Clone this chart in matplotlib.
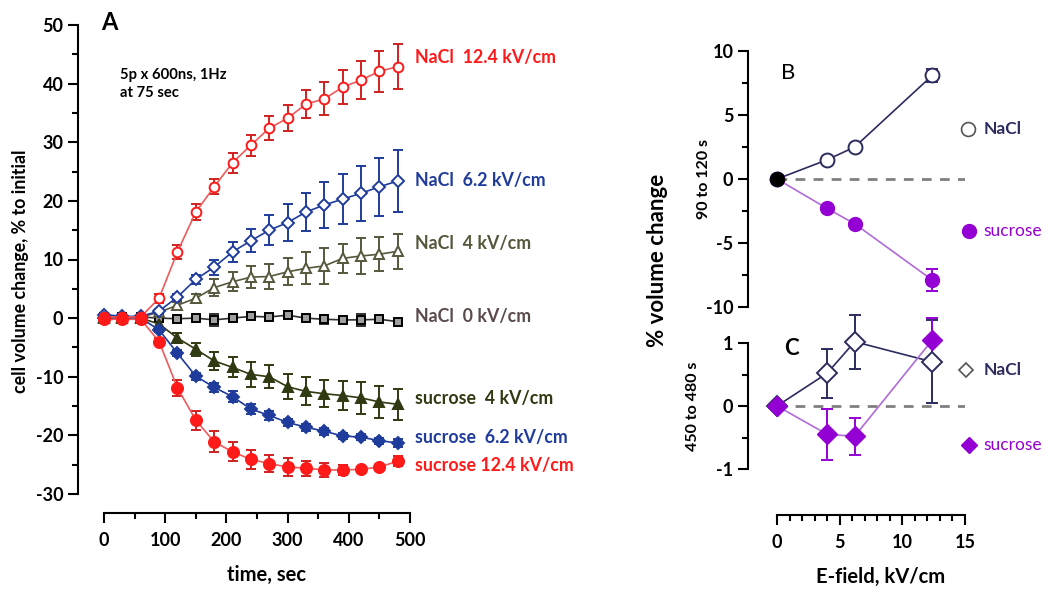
import matplotlib.pyplot as plt
import numpy as np
from matplotlib.ticker import MultipleLocator

plt.rcParams["font.family"] = ["Lato", "DejaVu Sans"]
plt.rcParams["font.weight"] = "bold"
plt.rcParams["axes.unicode_minus"] = False

# Panel A: time course, % volume change
time_s = [0, 30, 60, 90, 120, 150, 180, 210, 240, 270, 300, 330, 360, 390, 420, 450, 480]

nacl_12 = [0.2, 0.2, 0.2, 3.4, 11.3, 18.1, 22.4, 26.5, 29.5, 32.4, 34.1, 36.5, 37.4, 39.4, 40.6, 42.1, 42.9]
nacl_12_err = [0.2, 0.2, 0.2, 0.8, 1.2, 1.3, 1.3, 1.7, 1.8, 2.0, 2.2, 2.4, 2.8, 2.9, 3.2, 3.5, 3.8]
nacl_6 = [0.6, 0.3, 0.3, 1.2, 3.6, 6.6, 8.7, 11.3, 13.2, 15.0, 16.3, 18.1, 19.3, 20.3, 21.3, 22.4, 23.4]
nacl_6_err = [0.2, 0.2, 0.2, 0.4, 0.5, 0.7, 1.3, 1.7, 2.0, 2.6, 3.1, 3.3, 4.0, 4.3, 4.7, 4.9, 5.3]
nacl_4 = [0.2, 0.2, 0.2, 1.0, 2.2, 3.4, 5.2, 6.2, 7.0, 7.1, 7.9, 8.5, 8.9, 10.2, 10.6, 10.9, 11.4]
nacl_4_err = [0.2, 0.2, 0.2, 0.4, 0.5, 0.8, 1.4, 1.6, 1.9, 2.1, 2.3, 2.7, 3.0, 2.5, 3.0, 2.9, 3.0]
nacl_0 = [0.2, 0.2, 0.2, 0.0, -0.1, 0.0, -0.3, 0.0, 0.3, 0.2, 0.5, 0.0, -0.2, -0.3, -0.3, -0.2, -0.6]
nacl_0_err = [0.2, 0.2, 0.2, 0.3, 0.3, 0.3, 1.0, 0.6, 0.4, 0.4, 0.4, 0.3, 0.8, 0.5, 1.0, 0.4, 0.5]
suc_4 = [0.0, 0.0, 0.0, -1.0, -3.4, -5.3, -7.3, -8.4, -9.6, -10.0, -11.7, -12.5, -12.9, -13.2, -13.6, -14.3, -14.7]
suc_4_err = [0.2, 0.2, 0.2, 0.5, 0.9, 1.1, 1.5, 1.7, 2.1, 2.0, 2.1, 2.4, 2.3, 2.4, 2.7, 2.8, 2.6]
suc_6 = [0.0, 0.0, 0.0, -2.0, -6.0, -9.9, -11.8, -13.4, -15.5, -16.6, -17.8, -18.6, -19.3, -20.1, -20.3, -20.9, -21.3]
suc_6_err = [0.2, 0.2, 0.2, 0.4, 0.5, 0.6, 0.8, 0.9, 0.9, 0.7, 0.6, 0.6, 0.6, 0.5, 0.5, 0.5, 0.6]
suc_12 = [-0.2, -0.2, -0.2, -4.0, -11.9, -17.4, -21.1, -22.8, -24.1, -24.8, -25.4, -25.6, -25.9, -25.9, -25.8, -25.4, -24.4]
suc_12_err = [0.2, 0.2, 0.2, 0.6, 1.4, 1.6, 1.8, 1.6, 1.6, 1.4, 1.5, 1.3, 1.2, 0.8, 0.4, 0.3, 0.9]

labels_a = ["NaCl  12.4 kV/cm", "NaCl  6.2 kV/cm", "NaCl  4 kV/cm", "NaCl  0 kV/cm",
            "sucrose  4 kV/cm", "sucrose  6.2 kV/cm", "sucrose 12.4 kV/cm"]
label_y_a = [44.5, 23.5, 12.8, 0.3, -13.7, -20.3, -25.1]

# Panels B and C: E-field dependence
efield = [0, 4, 6.2, 12.4]
b_nacl = [0, 1.5, 2.5, 8.1]
b_nacl_err = [0, 0.2, 0.2, 0.5]
b_suc = [0, -2.3, -3.5, -7.9]
b_suc_err = [0, 0.2, 0.2, 0.85]
c_nacl = [0, 0.52, 1.02, 0.7]
c_nacl_err = [0, 0.39, 0.43, 0.66]
c_suc = [0, -0.45, -0.48, 1.05]
c_suc_err = [0, 0.4, 0.29, 0.35]

RED = "#ff1a1a"
RED_LINE = "#f05a5a"
BLUE = "#1f3c9c"
OLIVE = "#56573c"
DARKOLIVE = "#2f3a12"
GRAY_TXT = "#5a4a4a"
NAVY = "#2b2b5e"
PURPLE = "#9400d3"
PURPLE_LINE = "#b06cd6"


def pt(px):
    return px * 72 / 100


fig = plt.figure(figsize=(10.5, 5.93), dpi=100)

# ---------- panel A ----------
ax = fig.add_axes([104 / 1050, 1 - 494 / 593, 306 / 1050, 469 / 593])
ax.set_xlim(0, 500)
ax.set_ylim(-30, 50)

series = [
    (nacl_0, nacl_0_err, "s", "#a0a0a0", "black", "#303030", "#303030", 6),
    (nacl_4, nacl_4_err, "^", "white", OLIVE, OLIVE, OLIVE, 6.5),
    (suc_4, suc_4_err, "^", DARKOLIVE, DARKOLIVE, DARKOLIVE, DARKOLIVE, 7),
    (nacl_6, nacl_6_err, "D", "white", BLUE, BLUE, BLUE, 6),
    (suc_6, suc_6_err, "D", BLUE, BLUE, BLUE, BLUE, 6.5),
    (nacl_12, nacl_12_err, "o", "white", RED, RED_LINE, "#d02020", 7),
    (suc_12, suc_12_err, "o", RED, RED, RED_LINE, "#d02020", 8),
]
for y, e, m, fc, ec, lc, errc, ms in series:
    ax.errorbar(time_s, y, yerr=e, fmt="none", ecolor=errc, elinewidth=1.4,
                capsize=3.5, capthick=1.4, clip_on=False, zorder=2)
    ax.plot(time_s, y, color=lc, lw=1.2, marker=m, ms=ms, mfc=fc, mec=ec,
            mew=1.4, clip_on=False, zorder=3)

label_colors = [RED, BLUE, OLIVE, GRAY_TXT, DARKOLIVE, BLUE, RED]
for txt, yy, c in zip(labels_a, label_y_a, label_colors):
    ax.text(508, yy, txt, color=c, fontsize=12.8, va="center", ha="left",
            fontweight="bold")

ax.text(26, 42.6, "5p x 600ns, 1Hz\nat 75 sec", fontsize=10.6, va="top",
        ha="left", fontweight="bold", linespacing=1.3)
ax.text(-4, 50.5, "A", fontsize=17, fontweight="bold", va="center", ha="left")

for s in ["top", "right"]:
    ax.spines[s].set_visible(False)
ax.spines["left"].set_position(("outward", pt(26)))
ax.spines["bottom"].set_position(("outward", pt(19)))
for s in ["left", "bottom"]:
    ax.spines[s].set_linewidth(1.5)
ax.xaxis.set_major_locator(MultipleLocator(100))
ax.xaxis.set_minor_locator(MultipleLocator(50))
ax.yaxis.set_major_locator(MultipleLocator(10))
ax.yaxis.set_minor_locator(MultipleLocator(5))
ax.tick_params(which="major", length=7, width=1.5, labelsize=13, direction="out")
ax.tick_params(which="minor", length=4.5, width=1.5, direction="out")
ax.tick_params(axis="x", which="major", pad=7)
ax.set_xlabel("time, sec", fontsize=14.5, fontweight="bold")
ax.set_ylabel("cell volume change, % to initial", fontsize=12.8, fontweight="bold")
ax.xaxis.set_label_coords(0.53, -0.152)
ax.yaxis.set_label_coords(-0.245, 0.475)

# ---------- panel B ----------
axb = fig.add_axes([777 / 1050, 1 - 307 / 593, 188 / 1050, 256 / 593])
axb.set_xlim(0, 15)
axb.set_ylim(-10, 10)
axb.plot([0, 15], [0, 0], color="#808080", lw=2, ls=(0, (3.5, 3)), zorder=1)
axb.errorbar(efield, b_nacl, yerr=b_nacl_err, fmt="none", ecolor=NAVY,
             elinewidth=1.4, capsize=4, capthick=1.4, zorder=2)
axb.errorbar(efield, b_suc, yerr=b_suc_err, fmt="none", ecolor=PURPLE,
             elinewidth=1.4, capsize=4, capthick=1.4, zorder=2)
axb.plot(efield, b_nacl, color=NAVY, lw=1.2, marker="o", ms=10, mfc="white",
         mec=NAVY, mew=1.4, zorder=3, clip_on=False)
axb.plot(efield, b_suc, color=PURPLE_LINE, lw=1.2, marker="o", ms=10,
         mfc=PURPLE, mec=PURPLE, zorder=3, clip_on=False)
axb.plot([0], [0], marker="o", ms=10, color="black", zorder=4, clip_on=False)
axb.plot([15.2], [3.9], marker="o", ms=10, mfc="white", mec="#555555",
         mew=1.2, clip_on=False)
axb.text(16.5, 3.9, "NaCl", color=NAVY, fontsize=12.5, va="center", fontweight="bold")
axb.plot([15.3], [-4.1], marker="o", ms=10, color=PURPLE, clip_on=False)
axb.text(16.5, -4.1, "sucrose", color=PURPLE, fontsize=12.5, va="center",
         fontweight="normal")
axb.text(0.35, 8.3, "B", fontsize=16, fontweight="normal", va="center")

for s in ["top", "right", "bottom"]:
    axb.spines[s].set_visible(False)
axb.spines["left"].set_position(("outward", pt(29)))
axb.spines["left"].set_linewidth(1.5)
axb.set_xticks([])
axb.yaxis.set_major_locator(MultipleLocator(5))
axb.yaxis.set_minor_locator(MultipleLocator(2.5))
axb.tick_params(which="major", length=7, width=1.5, labelsize=13)
axb.tick_params(which="minor", length=4.5, width=1.5)
axb.set_ylabel("90 to 120 s", fontsize=11.5, fontweight="bold")
axb.yaxis.set_label_coords(-0.35, 0.5)

# ---------- panel C ----------
axc = fig.add_axes([777 / 1050, 1 - 469 / 593, 188 / 1050, 126 / 593])
axc.set_xlim(0, 15)
axc.set_ylim(-1, 1)
axc.plot([0, 15], [0, 0], color="#808080", lw=2, ls=(0, (3.5, 3)), zorder=1)
axc.errorbar(efield, c_nacl, yerr=c_nacl_err, fmt="none", ecolor=NAVY,
             elinewidth=1.4, capsize=4.5, capthick=1.4, zorder=2, clip_on=False)
axc.errorbar(efield, c_suc, yerr=c_suc_err, fmt="none", ecolor=PURPLE,
             elinewidth=1.4, capsize=4.5, capthick=1.4, zorder=2, clip_on=False)
axc.plot(efield, c_nacl, color=NAVY, lw=1.2, marker="D", ms=10, mfc="white",
         mec=NAVY, mew=1.4, zorder=3, clip_on=False)
axc.plot(efield, c_suc, color=PURPLE_LINE, lw=1.2, marker="D", ms=10,
         mfc=PURPLE, mec=PURPLE, zorder=4, clip_on=False)
axc.plot([15.1], [0.57], marker="D", ms=7.5, mfc="white", mec="#555555",
         mew=1.2, clip_on=False)
axc.text(16.5, 0.57, "NaCl", color=NAVY, fontsize=12.5, va="center", fontweight="bold")
axc.plot([15.3], [-0.62], marker="D", ms=8, color=PURPLE, clip_on=False)
axc.text(16.5, -0.62, "sucrose", color=PURPLE, fontsize=12.5, va="center",
         fontweight="normal")
axc.text(0.6, 0.92, "C", fontsize=16, fontweight="bold", va="center")

for s in ["top", "right"]:
    axc.spines[s].set_visible(False)
axc.spines["left"].set_position(("outward", pt(29)))
axc.spines["bottom"].set_position(("outward", pt(46)))
for s in ["left", "bottom"]:
    axc.spines[s].set_linewidth(1.5)
axc.xaxis.set_major_locator(MultipleLocator(5))
axc.xaxis.set_minor_locator(MultipleLocator(1))
axc.yaxis.set_major_locator(MultipleLocator(1))
axc.yaxis.set_minor_locator(MultipleLocator(0.5))
axc.tick_params(which="major", length=7, width=1.5, labelsize=13)
axc.tick_params(which="minor", length=4.5, width=1.5)
axc.tick_params(axis="x", which="major", pad=7)
axc.set_xlabel("E-field, kV/cm", fontsize=14.5, fontweight="bold")
axc.xaxis.set_label_coords(0.55, -0.78)
axc.set_ylabel("450 to 480 s", fontsize=11.5, fontweight="bold")
axc.yaxis.set_label_coords(-0.41, 0.5)

fig.text(657 / 1050, 1 - 260 / 593, "% volume change", rotation=90,
         fontsize=16, fontweight="bold", ha="center", va="center")

fig.savefig("out.png", dpi=100)
